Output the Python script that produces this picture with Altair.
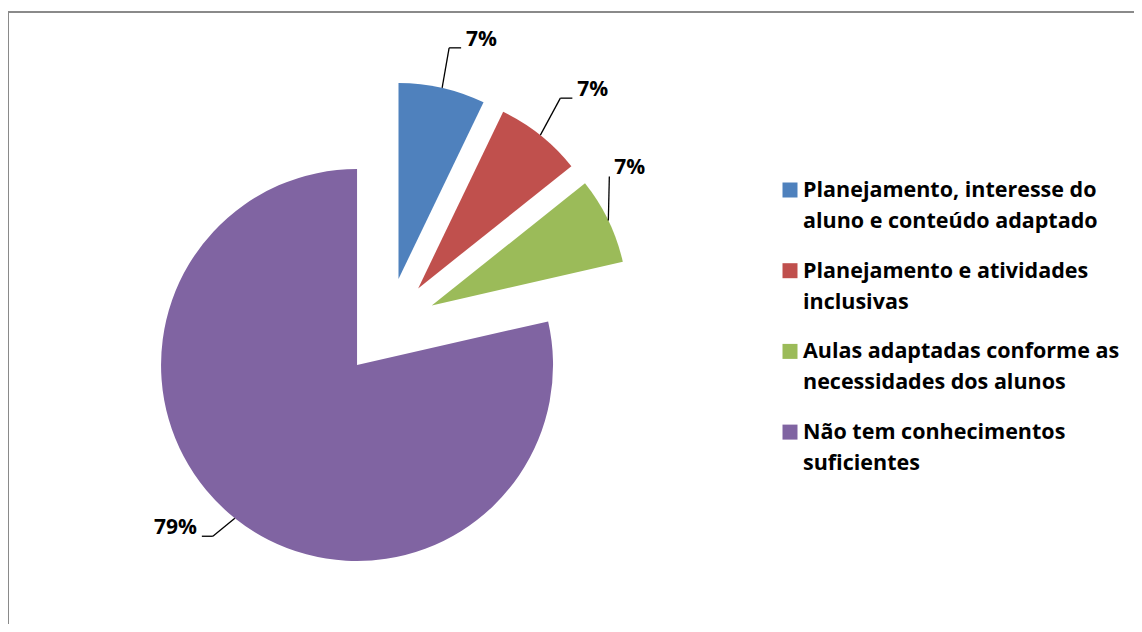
import textwrap
import altair as alt
import pandas as pd

# ---- data ----
categories = [
    "Planejamento, interesse do aluno e conteúdo adaptado",
    "Planejamento e atividades inclusivas",
    "Aulas adaptadas conforme as necessidades dos alunos",
    "Não tem conhecimentos suficientes",
]
counts = [1, 1, 1, 11]
colors = ["#4F81BD", "#C0504D", "#9BBB59", "#8064A2"]

# ---- style / layout ----
W, H = 1126, 612
CX, CY = 379.6, 314.7       # pie centre (px inside view)
R = 196                     # pie radius
EXPLODE = 49                # explosion distance
leader_dx = [7, 20, 1, -22]     # leader elbow offset from slice edge
leader_dy = [-40, -37, -44, 18]
leader_tail = [12, 12, 0, -11]  # horizontal tail after elbow
FONT = "Open Sans"
LEG_SYM_X, LEG_SYM_Y0 = 782, 178   # centre of first legend square
LEG_TXT_X, LEG_TXT_Y0 = 795, 185   # baseline of first legend line
LEG_STEP, LEG_LH = 80.7, 31

df = pd.DataFrame({
    "cat": categories,
    "count": counts,
    "order": list(range(len(categories))),
    "ldx": leader_dx,
    "ldy": leader_dy,
    "tail": leader_tail,
    "legtxt": ["\n".join(textwrap.wrap(c, width=27)) for c in categories],
})

base = (
    alt.Chart(df)
    .transform_joinaggregate(total="sum(count)")
    .transform_window(cum="sum(count)", sort=[alt.SortField("order")], frame=[None, 0])
    .transform_calculate(t0="2*PI*(datum.cum - datum.count)/datum.total")
    .transform_calculate(t1="2*PI*datum.cum/datum.total")
    .transform_calculate(mid="(datum.t0 + datum.t1)/2")
    .transform_calculate(cx=f"{CX} + {EXPLODE}*sin(datum.mid)")
    .transform_calculate(cy=f"{CY} - {EXPLODE}*cos(datum.mid)")
    .transform_calculate(ex=f"{CX} + {R + EXPLODE}*sin(datum.mid)")
    .transform_calculate(ey=f"{CY} - {R + EXPLODE}*cos(datum.mid)")
    .transform_calculate(bx="datum.ex + datum.ldx")
    .transform_calculate(by="datum.ey + datum.ldy")
    .transform_calculate(tx="datum.bx + datum.tail")
    .transform_calculate(side="sin(datum.mid) >= 0 ? 1 : -1")
    .transform_calculate(lx="datum.tx + 5*datum.side")
    .transform_calculate(ly="datum.by - 2")
    .transform_calculate(pct="format(datum.count/datum.total, '.0%')")
    .transform_calculate(sx=f"{LEG_SYM_X}", sy=f"{LEG_SYM_Y0} + datum.order*{LEG_STEP}")
    .transform_calculate(gx=f"{LEG_TXT_X}", gy=f"{LEG_TXT_Y0} + datum.order*{LEG_STEP}")
)

X = lambda f: alt.X(f, type="quantitative", scale=None, axis=None)
Y = lambda f: alt.Y(f, type="quantitative", scale=None, axis=None)
COLOR = alt.Color("cat:N", scale=alt.Scale(domain=categories, range=colors), legend=None)

arcs = base.mark_arc(radius=R).encode(
    theta=alt.Theta("t0:Q", scale=None),
    theta2="t1:Q",
    x=X("cx"),
    y=Y("cy"),
    color=COLOR,
)

lead1 = base.mark_rule(color="black", strokeWidth=1.3).encode(
    x=X("ex"), y=Y("ey"), x2="bx:Q", y2="by:Q"
)
lead2 = base.mark_rule(color="black", strokeWidth=1.3).encode(
    x=X("bx"), y=Y("by"), x2="tx:Q", y2="by:Q"
)
lab_r = base.transform_filter("datum.side > 0").mark_text(
    align="left", baseline="alphabetic", font=FONT, fontSize=21, fontWeight="bold", color="black"
).encode(x=X("lx"), y=Y("ly"), text="pct:N")
lab_l = base.transform_filter("datum.side < 0").mark_text(
    align="right", baseline="alphabetic", font=FONT, fontSize=21, fontWeight="bold", color="black"
).encode(x=X("lx"), y=Y("ly"), text="pct:N")

leg_sym = base.mark_square(size=225, opacity=1, strokeWidth=0).encode(
    x=X("sx"), y=Y("sy"), color=COLOR
)
leg_txt = base.mark_text(
    align="left", baseline="alphabetic", font=FONT, fontSize=21.5, fontWeight="bold",
    color="black", lineBreak="\n", lineHeight=LEG_LH
).encode(x=X("gx"), y=Y("gy"), text="legtxt:N")

frame_src = alt.Chart(pd.DataFrame({"k": [0]}))
top_border = frame_src.mark_rule(color="#8a8a8a", strokeWidth=2).encode(
    x=alt.value(0), x2=alt.value(W), y=alt.value(0)
)
left_border = frame_src.mark_rule(color="#8a8a8a", strokeWidth=2).encode(
    x=alt.value(0), y=alt.value(0), y2=alt.value(H)
)

chart = (
    alt.layer(arcs, lead1, lead2, lab_r, lab_l, leg_sym, leg_txt, top_border, left_border)
    .properties(
        width=W,
        height=H,
        padding={"top": 4, "left": 0, "right": 0, "bottom": 0},
        autosize=alt.AutoSizeParams(type="none"),
        background="white",
    )
    .configure_view(stroke=None)
)

chart.save("out.html", embed_options={"renderer": "svg", "actions": False})
